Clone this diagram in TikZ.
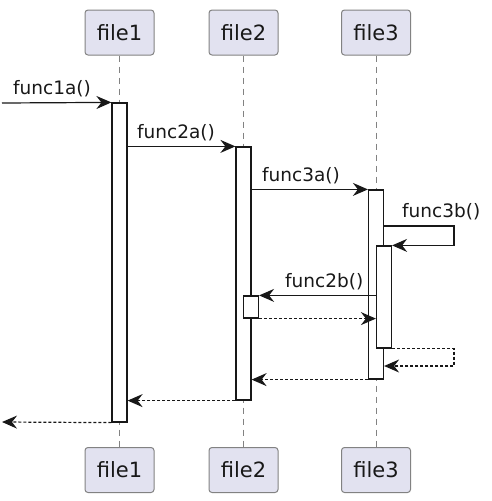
\documentclass[tikz,border=0pt]{standalone}
\usepackage{fontspec}
\setmainfont{DejaVu Sans}
\usetikzlibrary{arrows.meta}
\definecolor{boxfill}{RGB}{226,226,240}
\definecolor{boxline}{RGB}{130,130,130}
\definecolor{ink}{RGB}{24,24,24}
\tikzset{
  part/.style={draw=boxline, fill=boxfill, rounded corners=3pt, line width=1pt, minimum width=69pt, minimum height=45pt, inner sep=0pt, font=\fontsize{21}{24}\selectfont, text=ink},
  actbar/.style={draw=ink, fill=white, line width=1.2pt, minimum width=15pt, inner sep=0pt},
  msg/.style={draw=ink, line width=1.2pt, -{Stealth[length=15pt,width=13pt,inset=5pt]}},
  ret/.style={msg, dash pattern=on 3pt off 2pt},
  lifeline/.style={draw=boxline, line width=1pt, dash pattern=on 6pt off 5pt},
  lbl/.style={font=\fontsize{18.5}{22}\selectfont, text=ink, inner sep=0pt, anchor=base west},
}
\begin{document}
\begin{tikzpicture}[x=1pt,y=1pt,yscale=-1]
\useasboundingbox (0,0) rectangle (492,501);

%Participants top
\node[part] (f1) at (119.5,32.5) {file1};
\node[part] (f2) at (243.5,32.5) {file2};
\node[part] (f3) at (376,32.5) {file3};
%Participants bottom
\node[part] (g1) at (119.5,470) {file1};
\node[part] (g2) at (243.5,470) {file2};
\node[part] (g3) at (376,470) {file3};

%Lifelines
\draw[lifeline] (f1) -- (g1);
\draw[lifeline] (f2) -- (g2);
\draw[lifeline] (f3) -- (g3);

%Activation bars
\node[actbar, minimum height=319pt] (a1) at (119.5,262.5) {};
\node[actbar, minimum height=253pt] (a2) at (243.5,273.5) {};
\node[actbar, minimum height=189pt] (a3) at (376,284.5) {};
\node[actbar, minimum height=102pt] (a4) at (384,297) {};
\node[actbar, minimum height=22pt] (a5) at (251,307) {};

%Calls
\coordinate (in1) at (2,103);
\draw[msg] (in1) -- (a1.north west);
\draw[msg] (a1.east |- a2.north) -- (a2.north west);
\draw[msg] (a2.east |- a3.north) -- (a3.north west);
\coordinate (s1) at (454,226);
\draw[msg] (a3.east |- s1) -- (s1) -- (s1 |- a4.north) -- (a4.north east);
\draw[msg] (a4.west |- a5.north) -- (a5.north east);

%Returns
\draw[ret] (a5.south east) -- (a4.west |- a5.south);
\coordinate (s2) at (454,366);
\draw[ret] (a4.south east) -- (s2 |- a4.south) -- (s2) -- (a3.east |- s2);
\draw[ret] (a3.south west) -- (a2.east |- a3.south);
\draw[ret] (a2.south west) -- (a1.east |- a2.south);
\coordinate (out1) at (2,422);
\draw[ret] (a1.south west) -- (out1);

% Text Node
\node[lbl] (t1) at (13,94) {func1a()};
% Text Node
\node[lbl] (t2) at (137,138) {func2a()};
% Text Node
\node[lbl] (t3) at (262,181) {func3a()};
% Text Node
\node[lbl] (t4) at (402,217) {func3b()};
% Text Node
\node[lbl] (t5) at (285,287) {func2b()};

\end{tikzpicture}
\end{document}
